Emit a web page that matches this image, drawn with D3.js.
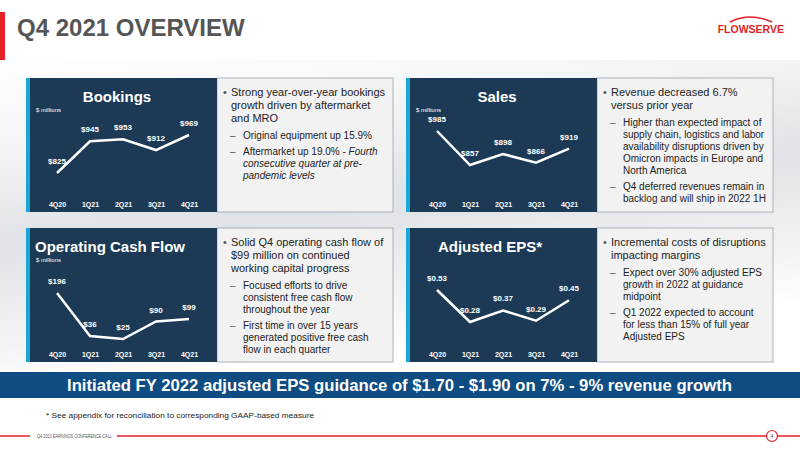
<!DOCTYPE html>
<html><head><meta charset="utf-8">
<script src="https://cdn.jsdelivr.net/npm/d3@7"></script>
<style>body{margin:0;}svg{display:block;font-family:"Liberation Sans",Arial,sans-serif;}</style>
</head><body><div id="chart"></div>
<script>
var quarters = ["4Q20", "1Q21", "2Q21", "3Q21", "4Q21"];
var bookings = [825, 945, 953, 912, 969];
var sales = [985, 857, 898, 866, 919];
var cashFlow = [196, 36, 25, 90, 99];
var eps = [0.53, 0.28, 0.37, 0.29, 0.45];

var svg = d3.select("#chart").append("svg").attr("width", 800).attr("height", 450);
var defs = svg.append("defs");
var bg = defs.append("linearGradient").attr("id", "bg").attr("x1", 0).attr("y1", 0).attr("x2", 0.3).attr("y2", 1);
bg.append("stop").attr("offset", "0").attr("stop-color", "#ffffff");
bg.append("stop").attr("offset", "0.25").attr("stop-color", "#f4f5f7");
bg.append("stop").attr("offset", "0.55").attr("stop-color", "#dfe2e6");
bg.append("stop").attr("offset", "0.85").attr("stop-color", "#f3f4f6");
bg.append("stop").attr("offset", "1").attr("stop-color", "#ffffff");
svg.append("rect").attr("width", 800).attr("height", 450).attr("fill", "#fff");
svg.append("rect").attr("y", 60).attr("width", 800).attr("height", 310).attr("fill", "url(#bg)");

// header
svg.append("rect").attr("x", 0).attr("y", 12).attr("width", 5).attr("height", 48).attr("fill", "#e41f26");
svg.append("text").attr("x", 17).attr("y", 36).attr("font-size", 24).attr("font-weight", "bold")
	.attr("fill", "#555").text("Q4 2021 OVERVIEW");
svg.append("text").attr("x", 784).attr("y", 33).attr("text-anchor", "end").attr("font-size", 10.5)
	.attr("font-weight", "bold").attr("fill", "#e41f26").text("FLOWSERVE");
svg.append("path").attr("d", "M730,22 Q750,12 772,22").attr("fill", "none").attr("stroke", "#e41f26").attr("stroke-width", 1.5);

function drawPanel(x0, y0, title, values, bottom, top, labels, bullets) {
	var g = svg.append("g");
	g.append("rect").attr("x", x0 + 191).attr("y", y0).attr("width", 176).attr("height", 134)
		.attr("fill", "#f2f2f2").attr("stroke", "#9aa4ae").attr("stroke-width", 0.8);
	g.append("rect").attr("x", x0).attr("y", y0).attr("width", 191).attr("height", 134).attr("fill", "#1c3a55");
	g.append("rect").attr("x", x0).attr("y", y0).attr("width", 4).attr("height", 134).attr("fill", "#1aa7d8");
	g.append("text").attr("x", x0 + (title.length > 12 ? 84 : 91)).attr("y", y0 + 24).attr("text-anchor", "middle")
		.attr("font-size", 15).attr("font-weight", "bold").attr("fill", "#fff").text(title);
	g.append("text").attr("x", x0 + 10).attr("y", y0 + 34).attr("font-size", 6).attr("fill", "#fff").text("$ millions")
		.attr("display", title === "Adjusted EPS*" ? "none" : null);

	var x = d3.scalePoint().domain(quarters).range([x0 + 31, x0 + 163]);
	var y = d3.scaleLinear().domain(d3.extent(values)).range([bottom, top]);
	g.append("path").datum(values)
		.attr("d", d3.line().x(function(d, i) { return x(quarters[i]); }).y(function(d) { return y(d); }))
		.attr("fill", "none").attr("stroke", "#fff").attr("stroke-width", 2.5);
	g.selectAll(".v").data(values).enter().append("text")
		.attr("x", function(d, i) { return x(quarters[i]); })
		.attr("y", function(d) { return y(d) - 9; })
		.attr("text-anchor", "middle").attr("font-size", 8).attr("font-weight", "bold").attr("fill", "#fff")
		.text(function(d, i) { return labels[i]; });
	var ax = g.append("g").attr("transform", "translate(0," + (y0 + 120) + ")")
		.call(d3.axisBottom(x).tickSize(0).tickPadding(4));
	ax.select(".domain").remove();
	ax.selectAll("text").attr("font-size", 7).attr("font-weight", "bold").attr("fill", "#fff")
		.attr("font-family", "Liberation Sans, Arial, sans-serif");

	var ty = y0 + 18;
	bullets.forEach(function(b) {
		var indent = b.sub ? 22 : 10;
		g.append("text").attr("x", x0 + 191 + (b.sub ? 13 : 6)).attr("y", ty)
			.attr("font-size", b.sub ? 10 : 11).attr("fill", "#555").text(b.sub ? "–" : "•");
		b.lines.forEach(function(l) {
			var t = g.append("text").attr("x", x0 + 191 + indent + 4).attr("y", ty)
				.attr("font-size", b.sub ? 10 : 11).attr("fill", "#222");
			l.split("|").forEach(function(part, k) {
				t.append("tspan").attr("font-style", k % 2 ? "italic" : null).text(part);
			});
			ty += b.sub ? 12 : 13;
		});
		ty += 4;
	});
}

drawPanel(26, 78, "Bookings", bookings, 173, 135, bookings.map(function(d) { return "$" + d; }), [
	{ lines: ["Strong year-over-year bookings", "growth driven by aftermarket", "and MRO"] },
	{ sub: true, lines: ["Original equipment up 15.9%"] },
	{ sub: true, lines: ["Aftermarket up 19.0% - |Fourth", "|consecutive quarter at pre-", "|pandemic levels"] }
]);
drawPanel(406, 78, "Sales", sales, 165, 131, sales.map(function(d) { return "$" + d; }), [
	{ lines: ["Revenue decreased 6.7%", "versus prior year"] },
	{ sub: true, lines: ["Higher than expected impact of", "supply chain, logistics and labor", "availability disruptions driven by", "Omicron impacts in Europe and", "North America"] },
	{ sub: true, lines: ["Q4 deferred revenues remain in", "backlog and will ship in 2022 1H"] }
]);
drawPanel(26, 228, "Operating Cash Flow", cashFlow, 339, 293, cashFlow.map(function(d) { return "$" + d; }), [
	{ lines: ["Solid Q4 operating cash flow of", "$99 million on continued", "working capital progress"] },
	{ sub: true, lines: ["Focused efforts to drive", "consistent free cash flow", "throughout the year"] },
	{ sub: true, lines: ["First time in over 15 years", "generated positive free cash", "flow in each quarter"] }
]);
drawPanel(406, 228, "Adjusted EPS*", eps, 322, 290, eps.map(function(d) { return "$" + d.toFixed(2); }), [
	{ lines: ["Incremental costs of disruptions", "impacting margins"] },
	{ sub: true, lines: ["Expect over 30% adjusted EPS", "growth in 2022 at guidance", "midpoint"] },
	{ sub: true, lines: ["Q1 2022 expected to account", "for less than 15% of full year", "Adjusted EPS"] }
]);

// banner
svg.append("rect").attr("x", 0).attr("y", 372).attr("width", 800).attr("height", 26).attr("fill", "#0f4c81");
svg.append("text").attr("x", 67).attr("y", 391).attr("font-size", 16)
	.attr("font-weight", "bold").attr("fill", "#fff").attr("textLength", 665).attr("lengthAdjust", "spacingAndGlyphs")
	.text("Initiated FY 2022 adjusted EPS guidance of $1.70 - $1.90 on 7% - 9% revenue growth");
svg.append("text").attr("x", 46).attr("y", 418).attr("font-size", 7).attr("fill", "#222")
	.attr("textLength", 268).attr("lengthAdjust", "spacingAndGlyphs")
	.text("* See appendix for reconciliation to corresponding GAAP-based measure");

// footer
svg.append("line").attr("x1", 0).attr("x2", 30).attr("y1", 436).attr("y2", 436).attr("stroke", "#e41f26").attr("stroke-width", 1.5);
svg.append("line").attr("x1", 117).attr("x2", 766).attr("y1", 436).attr("y2", 436).attr("stroke", "#e41f26").attr("stroke-width", 1.5);
svg.append("line").attr("x1", 778).attr("x2", 800).attr("y1", 436).attr("y2", 436).attr("stroke", "#e41f26").attr("stroke-width", 1.5);
svg.append("text").attr("x", 37).attr("y", 438).attr("font-size", 5.5).attr("fill", "#555")
	.attr("textLength", 75).attr("lengthAdjust", "spacingAndGlyphs").text("Q4 2021 EARNINGS CONFERENCE CALL");
svg.append("circle").attr("cx", 772).attr("cy", 436).attr("r", 5.5).attr("fill", "#fff").attr("stroke", "#e41f26").attr("stroke-width", 1.2);
svg.append("text").attr("x", 772).attr("y", 438).attr("text-anchor", "middle").attr("font-size", 5).attr("fill", "#555").text("4");
</script></body></html>
